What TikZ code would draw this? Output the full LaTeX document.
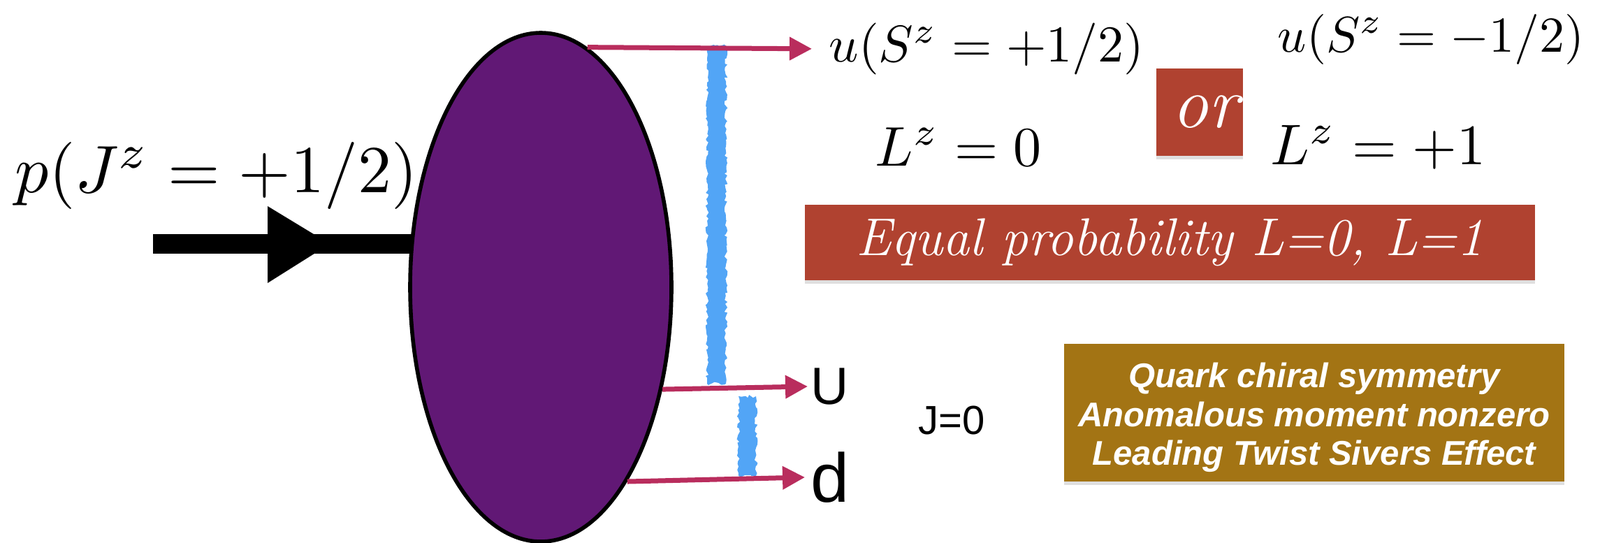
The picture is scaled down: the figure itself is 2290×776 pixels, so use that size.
\documentclass[tikz,border=0pt]{standalone}
\usepackage{graphicx}
\usepackage{fontspec}
\newfontfamily\arialfont{Liberation Sans}
\usetikzlibrary{arrows.meta, positioning, shapes.geometric, shadows,
backgrounds, decorations.pathmorphing}
\definecolor{protonpurple}{RGB}{97,24,117}
\definecolor{quarkred}{RGB}{185,45,93}
\definecolor{chalkblue}{RGB}{82,165,246}
\definecolor{brickred}{RGB}{176,66,48}
\definecolor{ochre}{RGB}{163,116,20}
\newcommand{\mathat}[2]{\scalebox{#1}{$#2$}} % math set at 10pt, then scaled
\tikzset{
  x=0.5pt, y=-0.5pt, % one unit is one pixel of the slide, y going down
  quark/.style={draw=quarkred, line width=3.5pt,
    -{Triangle[length=16pt, width=16pt]}}, % thin arrows leaving the
  % proton
  chalk/.style={fill=chalkblue, decorate, decoration={random steps,
    segment length=2pt, amplitude=1.2pt}}, % blue marker strokes
  card/.style={text=white, inner sep=0pt, drop shadow={shadow xshift=0pt,
    shadow yshift=-2.5pt, opacity=0.25}}, % coloured text boxes
}

\begin{document}
\begin{tikzpicture}[thick, mathtext/.style = {inner sep=0pt}]
    \useasboundingbox (0,0) rectangle (2290,776);

    \node[ellipse, draw, line width=2.8pt, fill=protonpurple, inner sep=0pt,
    minimum width=187pt, minimum height=364pt] (blob) at (774,411) {};

    % incoming proton, behind the blob
    \coordinate (beam_start) at (219,349);
    \begin{scope}[on background layer]
      \draw[line width=14pt] (beam_start) -- (beam_start -| blob.center);
      \fill (383,295) -- (472,349) -- (383,405) -- cycle;
    \end{scope}
    \node[mathtext, anchor=base west] (proton_label) at (21,275)
    {\mathat{4.8}{p(J^z = +1/2)}};

    % marker strokes
    \fill[chalk] (1012,66) rectangle (1039,549);
    \fill[chalk] (1057,567) rectangle (1082,681);

    \node[mathtext, anchor=west] (u_up) at (1186,70)
    {\mathat{3.7}{u(S^z = +1/2)}};
    \node[mathtext, anchor=west] (u_down) at (1828,56)
    {\mathat{3.6}{u(S^z = -1/2)}};
    \node[mathtext, anchor=base west] (l_zero) at (1252,237)
    {\mathat{4.0}{L^z = 0}};
    \node[mathtext, anchor=base west] (l_one) at (1818,235)
    {\mathat{4.1}{L^z = +1}};

    \node[card, fill=brickred, minimum width=62pt, minimum height=62.5pt,
    font=\fontsize{52}{60}\selectfont\itshape] (or_box) at (1717,160.5)
    {\hspace*{8pt}\raisebox{-9pt}{or}};
    \node[card, fill=brickred, minimum width=522.5pt, minimum height=54pt,
    font=\fontsize{38}{44}\selectfont\itshape] (equal_box) at (1674.5,347)
    {Equal probability L=0, L=1};
    \node[card, fill=ochre, minimum width=358pt, minimum height=98.5pt,
    align=center, font=\arialfont\bfseries\itshape\fontsize{24.5}{27.75}\selectfont]
    (chiral_box) at (1881,590.5) {\rule{0pt}{25pt}Quark chiral symmetry\\Anomalous
    moment nonzero\\Leading Twist Sivers Effect};

    \node[anchor=west, inner sep=2pt, font=\arialfont\fontsize{37.5}{45}\selectfont]
    (u_quark) at (1156,553) {U};
    \node[anchor=west, inner sep=4pt, font=\arialfont\fontsize{49.5}{60}\selectfont]
    (d_quark) at (1152,683) {d};
    \node[font=\arialfont\fontsize{29}{35}\selectfont] (j_zero) at (1362,602)
    {J=0};

    \draw[quark, shorten >=12pt] (blob.79.2) -- (u_up.west);
    \draw[quark] (blob.-40.9) -- (u_quark.west);
    \draw[quark] (blob.-66.2) -- (d_quark.west);
  \end{tikzpicture}
\end{document}
